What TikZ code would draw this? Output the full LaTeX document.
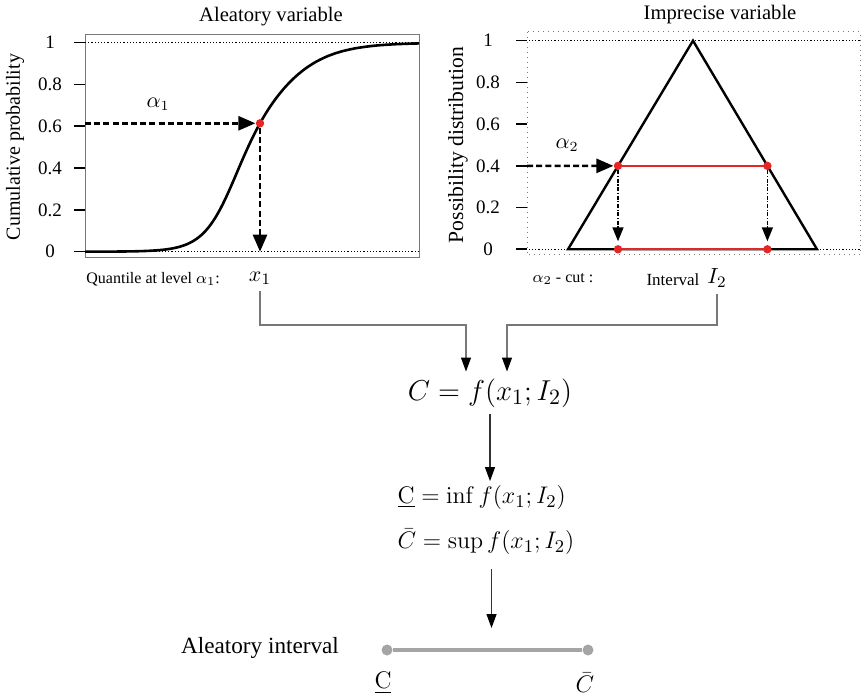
\documentclass[tikz,border=0pt]{standalone}
\usepackage[no-math]{fontspec}
\setmainfont{Liberation Serif}
\usepackage{amsmath}
\usetikzlibrary{arrows.meta,calc}
\definecolor{cutRed}{RGB}{228,38,38}
\definecolor{frameGray}{RGB}{120,120,120}
\definecolor{intervalGray}{RGB}{165,165,165}

\begin{document}
\begin{tikzpicture}[x=0.5pt,y=-0.5pt,
    frame/.style={draw=frameGray,line width=0.5pt},
    level/.style={densely dotted,line width=0.6pt},
    ticklab/.style={font=\fontsize{9.5}{11}\selectfont,inner sep=0pt},
    title/.style={font=\fontsize{10.3}{12}\selectfont,inner sep=1pt},
    small/.style={font=\fontsize{8}{10}\selectfont,inner sep=1pt},
    curve/.style={line width=1.3pt,line join=round},
    guide/.style={dash pattern=on 3pt off 1.6pt,line width=1.3pt,
      -{Triangle[length=8.5pt,width=7pt]}},
    drop/.style={dash pattern=on 2pt off 0.8pt on 0.6pt off 0.8pt,line width=0.8pt,
      -{Triangle[length=7pt,width=5.5pt]}},
    flow/.style={draw=frameGray,line width=0.6pt,
      -{Triangle[length=7pt,width=5pt,color=black]}},
    reddot/.style={circle,fill=cutRed,inner sep=0pt,minimum size=4.2pt},
    graydot/.style={circle,fill=intervalGray,inner sep=0pt,minimum size=5.5pt},
    declare function={cdf(\u)=1/(1+exp(-(\u-248)/(18+12/(1+exp(-(\u-248)/20)))));}
  ]
  \useasboundingbox (0,0) rectangle (861,699);

  % aleatory variable
  \node[title] (ttlA) at (271,17) {Aleatory variable};
  \draw[frame] (85,35) rectangle (419,258);
  \draw[level] (85,42.7) -- (419,42.7);
  \draw[level] (85,251.7) -- (419,251.7);
  \foreach \v/\t [count=\i] in {0/0,0.2/0.2,0.4/0.4,0.6/0.6,0.8/0.8,1/1}{
    \draw[line width=0.8pt] (74,{251.7-209*\v}) -- (85,{251.7-209*\v});
    \node[ticklab] (ta\i) at (50,{251.7-209*\v}) {\t};
  }
  \node[rotate=90,font=\fontsize{10}{12}\selectfont] (ylabA) at (15,147) {Cumulative probability};
  \draw[curve] plot[domain=85:419,samples=120,smooth] (\x,{251.7-209*cdf(\x)});

  \coordinate (a1start) at (85,{251.7-209*cdf(260)});
  \coordinate (x1foot) at (260,251.7);
  \node[reddot] (p1) at (260,{251.7-209*cdf(260)}) {};
  \draw[guide] (a1start) -- (p1);
  \draw[guide] (p1) -- (x1foot);
  \node[font=\fontsize{10.5}{12}\selectfont] (alpha1) at (158,104) {$\alpha_1$};

  \node[small,anchor=west] (quant) at (84,279) {Quantile at level $\alpha_1$:};
  \node[font=\fontsize{11}{13}\selectfont] (x1) at (260,278) {$x_1$};

  % imprecise variable
  \node[title] (ttlI) at (720,15) {Imprecise variable};
  \draw[frame,dotted] (527,32) rectangle (860,255);
  \draw[level] (516,40.7) -- (861,40.7);
  \draw[level] (516,249.3) -- (861,249.3);
  \foreach \v/\t [count=\i] in {0/0,0.2/0.2,0.4/0.4,0.6/0.6,0.8/0.8,1/1}{
    \draw[line width=0.8pt] (516,{249.3-208.6*\v}) -- (527,{249.3-208.6*\v});
    \node[ticklab] (tb\i) at (488,{249.3-208.6*\v}) {\t};
  }
  \node[rotate=90,font=\fontsize{10.8}{12}\selectfont] (ylabI) at (458,145) {Possibility distribution};

  \coordinate (baseL) at (568,249.3);
  \coordinate (apex) at (693,40.7);
  \coordinate (baseR) at (817,249.3);
  \draw[line width=1.2pt,line join=miter] (baseL) -- (apex) -- (baseR) -- cycle;

  \coordinate (cutL) at ($(baseL)!0.4!(apex)$);
  \coordinate (cutR) at ($(baseR)!0.4!(apex)$);
  \coordinate (cutL0) at (cutL |- baseL);
  \coordinate (cutR0) at (cutR |- baseR);
  \draw[cutRed,line width=1pt] (cutL) -- (cutR);
  \draw[cutRed,line width=1pt] (cutL0) -- (cutR0);
  \node[reddot] (qL) at (cutL) {};
  \node[reddot] (qR) at (cutR) {};
  \node[reddot] (qL0) at (cutL0) {};
  \node[reddot] (qR0) at (cutR0) {};
  \draw[drop,shorten >=4pt] (qL) -- (qL0.center);
  \draw[drop,shorten >=4pt] (qR) -- (qR0.center);

  \coordinate (a2start) at (527,165.9);
  \draw[guide] (a2start) -- (qL);
  \node[font=\fontsize{10.5}{12}\selectfont] (alpha2) at (567,145) {$\alpha_2$};

  \node[small] (cut) at (563,279) {$\alpha_2$ - cut :};
  \node[font=\fontsize{8.5}{10}\selectfont] (intv) at (673,280) {Interval};
  \node[font=\fontsize{11}{13}\selectfont] (I2) at (717,278) {$I_2$};

  % propagation
  \node[font=\fontsize{15}{18}\selectfont] (cfun) at (490,393) {$C=f(x_1;I_2)$};
  \coordinate (jL) at (466,325);
  \coordinate (jR) at (507,325);
  \draw[flow] (x1.south) |- (jL) -- (jL |- cfun.north);
  \draw[flow] (I2.south) |- (jR) -- (jR |- cfun.north);

  \node[font=\fontsize{12.8}{22.5}\selectfont,align=left,inner sep=2pt] (bounds) at (486,520)
    {$\underline{\mathrm{C}}=\inf f(x_1;I_2)$\\ $\bar{C}=\sup f(x_1;I_2)$};
  \draw[flow,draw=black!80] (cfun.south) -- (cfun.south |- bounds.north);

  \node[graydot] (clow) at (387,650) {};
  \node[graydot] (chigh) at (588,650) {};
  \draw[intervalGray,line width=2pt] (clow) -- (chigh);
  \coordinate (imid) at ($(clow)!0.52!(chigh)$);
  \draw[flow,draw=black!80,shorten <=5pt,shorten >=11pt] (bounds.south -| imid) -- (imid);

  \node[font=\fontsize{11.6}{14}\selectfont] (aleaint) at (260,648) {Aleatory interval};
  \node[font=\fontsize{13}{15}\selectfont] (clowlab) at (383,683) {$\underline{\mathrm{C}}$};
  \node[font=\fontsize{13}{15}\selectfont] (chighlab) at (585,683) {$\bar{C}$};
\end{tikzpicture}
\end{document}
